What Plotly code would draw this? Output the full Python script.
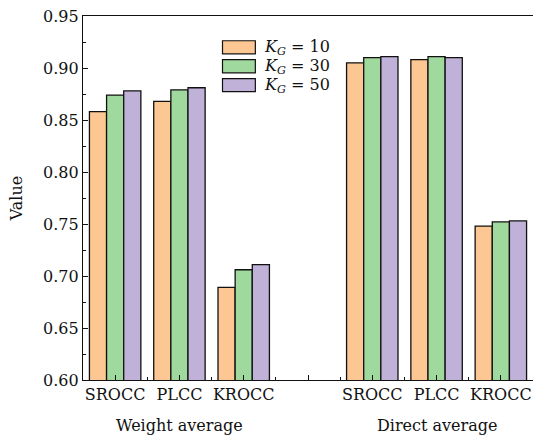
import plotly.graph_objects as go

categories = ["SROCC", "PLCC", "KROCC"]
groups = ["Weight average", "Direct average"]
series_names = ["<i>K</i><sub><i>G</i></sub> = 10", "<i>K</i><sub><i>G</i></sub> = 30", "<i>K</i><sub><i>G</i></sub> = 50"]
kg10 = [0.858, 0.868, 0.689, 0.905, 0.908, 0.748]
kg30 = [0.874, 0.879, 0.706, 0.910, 0.911, 0.752]
kg50 = [0.878, 0.881, 0.711, 0.911, 0.910, 0.753]
colors = ["#FCC792", "#A0D99E", "#C0B1D8"]

# slot positions: first group 0..2, blank slot 3, second group 4..6
xpos = []
for gi in range(len(groups)):
    for ci in range(len(categories)):
        xpos.append(gi * (len(categories) + 1) + ci)

FONT = "DejaVu Serif"
FS = 16
fig = go.Figure()
for name, vals, col in zip(series_names, [kg10, kg30, kg50], colors):
    fig.add_trace(go.Bar(x=xpos, y=vals, name=name, marker=dict(color=col, line=dict(color="#111", width=1.3)),
                         showlegend=False))

tickvals = list(range(0, 7))
ticktext = []
for v in tickvals:
    ticktext.append(categories[v % 4] if v % 4 < 3 else "")

fig.update_layout(
    width=533, height=438,
    margin=dict(l=83, r=0, t=16, b=58),
    plot_bgcolor="white", paper_bgcolor="white",
    barmode="group", bargap=0.2, bargroupgap=0,
    font=dict(family=FONT, size=FS, color="#111"),
    xaxis=dict(range=[-0.5, 6.5], tickvals=tickvals, ticktext=ticktext, ticks="inside", ticklen=5,
               tickcolor="#111", showline=True, linecolor="#111", linewidth=1.3, mirror=True,
               showgrid=False, zeroline=False, tickfont=dict(size=FS),
               minor=dict(ticks="inside", ticklen=3, tickcolor="#111", dtick=0.5, tick0=0.5, showgrid=False)),
    yaxis=dict(range=[0.6, 0.95], dtick=0.05, tickformat=".2f", ticks="inside", ticklen=5,
               tickcolor="#111", showline=True, linecolor="#111", linewidth=1.3, showgrid=False,
               zeroline=False, tickfont=dict(size=FS),
               title=dict(text="Value", standoff=16, font=dict(size=FS)),
               minor=dict(ticks="inside", ticklen=3, tickcolor="#111", dtick=0.025, showgrid=False)),
)

# group labels
for gi, g in enumerate(groups):
    fig.add_annotation(x=gi * 4 + 1, y=0, xref="x", yref="paper", yanchor="top", yshift=-34,
                       text=g, showarrow=False, font=dict(size=FS))

# custom legend
for i, (name, col) in enumerate(zip(series_names, colors)):
    y0 = 0.932 - i * 0.052
    fig.add_shape(type="rect", xref="paper", yref="paper", x0=0.310, x1=0.383, y0=y0 - 0.036, y1=y0,
                  fillcolor=col, line=dict(color="#111", width=1.2))
    fig.add_annotation(x=0.398, y=y0 - 0.018, xref="paper", yref="paper", xanchor="left", yanchor="middle",
                       text=name, showarrow=False, font=dict(size=FS))

fig.write_html("out.html", post_script="document.body.style.margin='0';",
               config={"displayModeBar": False})
